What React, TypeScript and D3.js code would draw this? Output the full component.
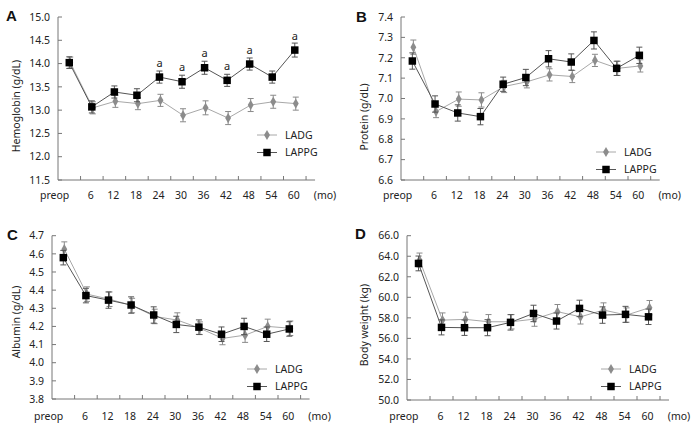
import React, { useRef, useEffect } from 'react';
import * as d3 from 'd3';

const categories = ['preop', '6', '12', '18', '24', '30', '36', '42', '48', '54', '60'];
const seriesNames = ['LADG', 'LAPPG'];

// Hemoglobin (g/dL)
const hbLADG = [14.02, 13.05, 13.19, 13.14, 13.21, 12.89, 13.05, 12.83, 13.11, 13.18, 13.14];
const hbLADGErr = [0.12, 0.13, 0.13, 0.13, 0.13, 0.14, 0.15, 0.14, 0.14, 0.14, 0.14];
const hbLAPPG = [14.02, 13.07, 13.39, 13.32, 13.71, 13.61, 13.91, 13.64, 13.99, 13.71, 14.29];
const hbLAPPGErr = [0.125, 0.13, 0.13, 0.14, 0.13, 0.14, 0.14, 0.13, 0.13, 0.13, 0.15];
const hbSignificant = ['24', '30', '36', '42', '48', '60'];

// Protein (g/dL)
const protLADG = [7.252, 6.936, 6.997, 6.993, 7.059, 7.082, 7.116, 7.108, 7.187, 7.148, 7.16];
const protLADGErr = [0.035, 0.03, 0.035, 0.035, 0.03, 0.03, 0.03, 0.03, 0.03, 0.035, 0.03];
const protLAPPG = [7.184, 6.973, 6.929, 6.911, 7.07, 7.103, 7.195, 7.179, 7.285, 7.148, 7.212];
const protLAPPGErr = [0.04, 0.04, 0.04, 0.04, 0.035, 0.04, 0.04, 0.04, 0.042, 0.035, 0.04];

// Albumin (g/dL)
const albLADG = [4.626, 4.378, 4.35, 4.315, 4.255, 4.235, 4.19, 4.134, 4.152, 4.2, 4.19];
const albLADGErr = [0.04, 0.04, 0.04, 0.04, 0.04, 0.04, 0.035, 0.035, 0.04, 0.04, 0.04];
const albLAPPG = [4.579, 4.37, 4.345, 4.318, 4.263, 4.211, 4.196, 4.157, 4.2, 4.157, 4.186];
const albLAPPGErr = [0.04, 0.04, 0.045, 0.045, 0.045, 0.045, 0.04, 0.04, 0.045, 0.04, 0.04];

// Body weight (kg)
const bwLADG = [63.63, 57.78, 57.85, 57.62, 57.62, 57.88, 58.6, 58.1, 58.76, 58.27, 58.99];
const bwLADGErr = [0.68, 0.7, 0.7, 0.7, 0.7, 0.7, 0.7, 0.7, 0.7, 0.7, 0.7];
const bwLAPPG = [63.3, 57.07, 57.04, 57.04, 57.56, 58.43, 57.69, 58.92, 58.27, 58.34, 58.1];
const bwLAPPGErr = [0.72, 0.73, 0.75, 0.78, 0.75, 0.8, 0.78, 0.8, 0.8, 0.78, 0.75];

const FONT = '"Noto Sans", sans-serif';

type Panel = {
  letter: string;
  yLabel: string;
  ladg: number[]; ladgErr: number[];
  lappg: number[]; lappgErr: number[];
  yMin: number; yMax: number; yStep: number; yFmt: string;
  sig?: string[];
  // layout
  x0: number; bw: number; top: number; bottom: number;
  letterX: number; letterY: number;
  labelX: number; labelY: number;
  legX: number; legY: number;
  xLabelY: number;
};

const panels: Panel[] = [
  {
    letter: 'A', yLabel: 'Hemoglobin (g/dL)',
    ladg: hbLADG, ladgErr: hbLADGErr, lappg: hbLAPPG, lappgErr: hbLAPPGErr,
    yMin: 11.5, yMax: 15, yStep: 0.5, yFmt: '.1f', sig: hbSignificant,
    x0: 58, bw: 22.55, top: 17, bottom: 180,
    letterX: 6, letterY: 21, labelX: 16, labelY: 106, legX: 267, legY: 135, xLabelY: 199,
  },
  {
    letter: 'B', yLabel: 'Protein (g/dL)',
    ladg: protLADG, ladgErr: protLADGErr, lappg: protLAPPG, lappgErr: protLAPPGErr,
    yMin: 6.6, yMax: 7.4, yStep: 0.1, yFmt: '.1f',
    x0: 401, bw: 22.7, top: 17, bottom: 180,
    letterX: 356, letterY: 22, labelX: 364, labelY: 117, legX: 606, legY: 152, xLabelY: 199,
  },
  {
    letter: 'C', yLabel: 'Albumin (g/dL)',
    ladg: albLADG, ladgErr: albLADGErr, lappg: albLAPPG, lappgErr: albLAPPGErr,
    yMin: 3.8, yMax: 4.7, yStep: 0.1, yFmt: '.1f',
    x0: 52, bw: 22.6, top: 235.7, bottom: 399,
    letterX: 7, letterY: 240, labelX: 16, labelY: 322, legX: 257, legY: 369, xLabelY: 420,
  },
  {
    letter: 'D', yLabel: 'Body weight (kg)',
    ladg: bwLADG, ladgErr: bwLADGErr, lappg: bwLAPPG, lappgErr: bwLAPPGErr,
    yMin: 50, yMax: 66, yStep: 2, yFmt: '.1f',
    x0: 407, bw: 23, top: 235.7, bottom: 400,
    letterX: 355, letterY: 239, labelX: 364, labelY: 325, legX: 611, legY: 369, xLabelY: 420,
  },
];

const styles = {
  LADG: { line: '#a8a8a8', err: '#8a8a8a', fill: '#8c8c8c', symbol: d3.symbolDiamond, size: 30, dx: 1 },
  LAPPG: { line: '#555555', err: '#555555', fill: '#000000', symbol: d3.symbolSquare, size: 56, dx: 0 },
};

function drawPanel(svg: d3.Selection<SVGSVGElement, unknown, null, undefined>, p: Panel) {
  const g = svg.append('g');
  const x = d3.scaleBand<string>()
    .domain(categories)
    .range([p.x0, p.x0 + p.bw * categories.length]);
  const y = d3.scaleLinear().domain([p.yMin, p.yMax]).range([p.bottom, p.top]);
  const axisEnd = p.x0 + p.bw * categories.length + 9;
  const fmt = d3.format(p.yFmt);
  const yTicks = d3.range(p.yMin, p.yMax + p.yStep / 2, p.yStep);

  // axes
  g.append('line')
    .attr('x1', p.x0).attr('x2', p.x0).attr('y1', p.top).attr('y2', p.bottom)
    .attr('stroke', '#777').attr('stroke-width', 1);
  g.append('line')
    .attr('x1', p.x0).attr('x2', axisEnd).attr('y1', p.bottom).attr('y2', p.bottom)
    .attr('stroke', '#777').attr('stroke-width', 1);

  g.selectAll('line.ytick').data(yTicks).enter().append('line')
    .attr('class', 'ytick')
    .attr('x1', p.x0).attr('x2', p.x0 + 4)
    .attr('y1', d => y(d)).attr('y2', d => y(d))
    .attr('stroke', '#777');
  g.selectAll('text.ylab').data(yTicks).enter().append('text')
    .attr('class', 'ylab')
    .attr('x', p.x0 - 8).attr('y', d => y(d))
    .attr('dy', '0.36em')
    .attr('text-anchor', 'end')
    .style('font-family', FONT).style('font-size', '10.5px').style('fill', '#222')
    .text(d => fmt(d));

  const bounds = categories.map(c => x(c)! + x.bandwidth());
  g.selectAll('line.xtick').data(bounds).enter().append('line')
    .attr('class', 'xtick')
    .attr('x1', d => d).attr('x2', d => d)
    .attr('y1', p.bottom).attr('y2', p.bottom - 4)
    .attr('stroke', '#777');

  const cx = (c: string) => x(c)! + x.bandwidth() / 2;
  g.selectAll('text.xlab').data(categories).enter().append('text')
    .attr('class', 'xlab')
    .attr('x', (d, i) => (i === 0 ? cx(d) : cx(d) - 1))
    .attr('y', p.xLabelY)
    .attr('text-anchor', (d, i) => (i === 0 ? 'end' : 'middle'))
    .style('font-family', FONT).style('font-size', '10.5px').style('fill', '#222')
    .text(d => d);
  g.append('text')
    .attr('x', p.x0 + p.bw * categories.length + 19).attr('y', p.xLabelY)
    .attr('text-anchor', 'middle')
    .style('font-family', FONT).style('font-size', '10.5px').style('fill', '#222')
    .text('(mo)');

  // y label
  g.append('text')
    .attr('transform', `translate(${p.labelX},${p.labelY}) rotate(-90)`)
    .attr('text-anchor', 'middle')
    .attr('dy', '0.35em')
    .style('font-family', FONT).style('font-size', '10.5px').style('fill', '#222')
    .text(p.yLabel);

  // panel letter
  g.append('text')
    .attr('x', p.letterX).attr('y', p.letterY)
    .style('font-family', '"Liberation Sans", Arial, sans-serif')
    .style('font-weight', 'bold').style('font-size', '15px').style('fill', '#111')
    .text(p.letter);

  // series
  const series = [
    { name: 'LADG', vals: p.ladg, errs: p.ladgErr },
    { name: 'LAPPG', vals: p.lappg, errs: p.lappgErr },
  ];
  series.forEach(s => {
    const st = styles[s.name as 'LADG' | 'LAPPG'];
    const pts = categories.map((c, i) => ({ c, v: s.vals[i], e: s.errs[i], px: cx(c) + st.dx }));
    const line = d3.line<{ px: number; v: number }>().x(d => d.px).y(d => y(d.v));
    g.append('path').attr('d', line(pts)!)
      .attr('fill', 'none').attr('stroke', st.line).attr('stroke-width', 1);
    const eb = g.append('g');
    pts.forEach(d => {
      const y1 = y(d.v + d.e), y2 = y(d.v - d.e);
      eb.append('line').attr('x1', d.px).attr('x2', d.px).attr('y1', y1).attr('y2', y2)
        .attr('stroke', st.err).attr('stroke-width', 1);
      [y1, y2].forEach(yy => eb.append('line')
        .attr('x1', d.px - 3).attr('x2', d.px + 3).attr('y1', yy).attr('y2', yy)
        .attr('stroke', st.err).attr('stroke-width', 1));
    });
    g.selectAll(`path.m-${s.name}`).data(pts).enter().append('path')
      .attr('class', `m-${s.name}`)
      .attr('transform', d => `translate(${d.px},${y(d.v)})`)
      .attr('d', d3.symbol().type(st.symbol).size(st.size)()!)
      .attr('fill', st.fill);
  });

  // significance marks
  if (p.sig) {
    g.selectAll('text.sig').data(p.sig).enter().append('text')
      .attr('class', 'sig')
      .attr('x', d => cx(d))
      .attr('y', d => y(p.lappg[categories.indexOf(d)]) - 10.5)
      .attr('text-anchor', 'middle')
      .style('font-family', FONT).style('font-size', '11px').style('fill', '#222')
      .text('a');
  }

  // legend
  seriesNames.forEach((name, i) => {
    const st = styles[name as 'LADG' | 'LAPPG'];
    const ly = p.legY + i * 17.5;
    g.append('line').attr('x1', p.legX - 10).attr('x2', p.legX + 10)
      .attr('y1', ly).attr('y2', ly).attr('stroke', st.line);
    g.append('path').attr('transform', `translate(${p.legX},${ly})`)
      .attr('d', d3.symbol().type(st.symbol).size(st.size)()!)
      .attr('fill', st.fill);
    g.append('text').attr('x', p.legX + 18).attr('y', ly).attr('dy', '0.36em')
      .style('font-family', FONT).style('font-size', '10.5px').style('fill', '#222')
      .text(name);
  });
}

export default function App() {
  const svgRef = useRef<SVGSVGElement>(null);

  useEffect(() => {
    const svg = d3.select(svgRef.current!);
    svg.selectAll('*').remove();
    svg.append('rect').attr('width', 697).attr('height', 429).attr('fill', '#fff');
    panels.forEach(p => drawPanel(svg, p));
    return () => { svg.selectAll('*').remove(); };
  }, []);

  return (
    <svg ref={svgRef} width={697} height={429}
      style={{ position: 'absolute', left: 0, top: 0, display: 'block' }} />
  );
}
